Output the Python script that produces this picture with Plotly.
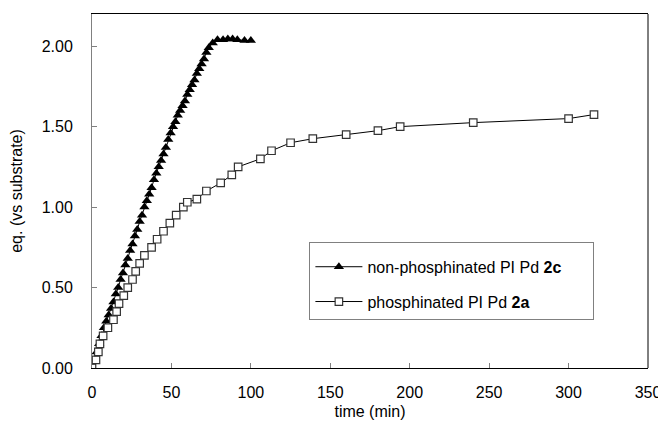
import plotly.graph_objects as go

# non-phosphinated PI Pd 2c (triangles)
tri_time = [0, 1.5, 3, 4.5, 6, 7.5, 9, 10.5, 12, 13.5, 15, 16.5, 18, 19.5, 21, 22.5,
            24, 25.5, 27, 28.5, 30, 31.5, 33, 34.5, 36, 37.5, 39, 40.5, 42, 43.5, 45,
            46.5, 48, 49.5, 51, 52.5, 54, 55.5, 57, 58.5, 60, 61.5, 63, 64.5, 66, 67.5,
            69, 70.5, 72, 73.5, 76, 79, 82.5, 85.5, 88.5, 91.5, 96, 100]
tri_eq = [0.00, 0.05, 0.10, 0.15, 0.20, 0.25, 0.29, 0.33, 0.37, 0.41, 0.46, 0.50, 0.55,
          0.59, 0.64, 0.68, 0.73, 0.77, 0.82, 0.86, 0.91, 0.95, 1.00, 1.04, 1.08, 1.12,
          1.17, 1.21, 1.25, 1.29, 1.33, 1.37, 1.42, 1.46, 1.50, 1.53, 1.57, 1.60, 1.63,
          1.66, 1.70, 1.73, 1.76, 1.79, 1.83, 1.86, 1.89, 1.92, 1.96, 1.99, 2.02, 2.04,
          2.04, 2.045, 2.045, 2.04, 2.035, 2.035]

# phosphinated PI Pd 2a (squares)
sq_time = [0, 2.5, 4, 5, 7, 10, 13.5, 15.5, 17, 20, 22.5, 25.5, 27.5, 30, 33, 37.5, 41,
           45, 49, 53, 57.5, 60, 66, 72, 81, 88, 92, 106, 113, 125, 139, 160, 180, 194,
           240, 300, 316]
sq_eq = [0.00, 0.05, 0.10, 0.15, 0.20, 0.25, 0.30, 0.35, 0.40, 0.45, 0.50, 0.55, 0.60,
         0.65, 0.70, 0.75, 0.80, 0.85, 0.90, 0.95, 1.00, 1.03, 1.05, 1.10, 1.15, 1.20,
         1.25, 1.30, 1.35, 1.40, 1.425, 1.45, 1.475, 1.50, 1.525, 1.55, 1.575]

x_ticks = [0, 50, 100, 150, 200, 250, 300, 350]
y_ticks = [0.0, 0.5, 1.0, 1.5, 2.0]

FONT = "Liberation Sans, Arial, sans-serif"
FS = 16
PAD = "\u00a0" * 6

fig = go.Figure()
fig.add_trace(go.Scatter(
    x=tri_time, y=tri_eq, mode="lines+markers",
    name="non-phosphinated PI Pd <b>2c</b>" + PAD,
    line=dict(color="black", width=1),
    marker=dict(symbol="triangle-up", size=9, color="black"),
    legendgroup="a",
))
fig.add_trace(go.Scatter(
    x=sq_time, y=sq_eq, mode="lines+markers",
    name="phosphinated PI Pd <b>2a</b>",
    line=dict(color="black", width=1),
    marker=dict(symbol="square", size=7.5, color="white",
                line=dict(color="#333333", width=1.2)),
    legendgroup="b",
))

# page body has an 8px margin, so the figure is sized/offset to compensate
fig.update_layout(
    width=658, height=415,
    margin=dict(l=84, r=16, t=5, b=55),
    paper_bgcolor="white", plot_bgcolor="white",
    font=dict(family=FONT, size=FS, color="black"),
    showlegend=True,
    legend=dict(
        x=0.391, y=0.355, xanchor="left", yanchor="top",
        bgcolor="white", bordercolor="#808080", borderwidth=1,
        font=dict(family=FONT, size=FS, color="black"),
        tracegroupgap=11, traceorder="grouped", itemwidth=47,
        title=dict(text="\u00a0", font=dict(size=5)),
    ),
    xaxis=dict(
        range=[0, 350], tickvals=x_ticks, ticktext=[str(v) for v in x_ticks],
        showgrid=False, zeroline=False,
        showline=True, linecolor="black", linewidth=1, mirror=True,
        ticks="inside", ticklen=5, tickcolor="#808080",
        ticklabelstandoff=10,
        title=dict(text="time (min)", font=dict(size=FS), standoff=5),
    ),
    yaxis=dict(
        range=[0, 2.2], tickvals=y_ticks, tickformat=".2f",
        showgrid=False, zeroline=False,
        showline=True, linecolor="#808080", linewidth=1,
        ticks="inside", ticklen=5, tickcolor="#808080",
        ticklabelstandoff=15,
        title=dict(text="eq. (vs substrate)", font=dict(size=FS), standoff=15),
    ),
    shapes=[dict(type="line", xref="paper", yref="paper", x0=1, x1=1, y0=0, y1=1,
                 line=dict(color="black", width=1))],
)

fig.write_html("out.html")
